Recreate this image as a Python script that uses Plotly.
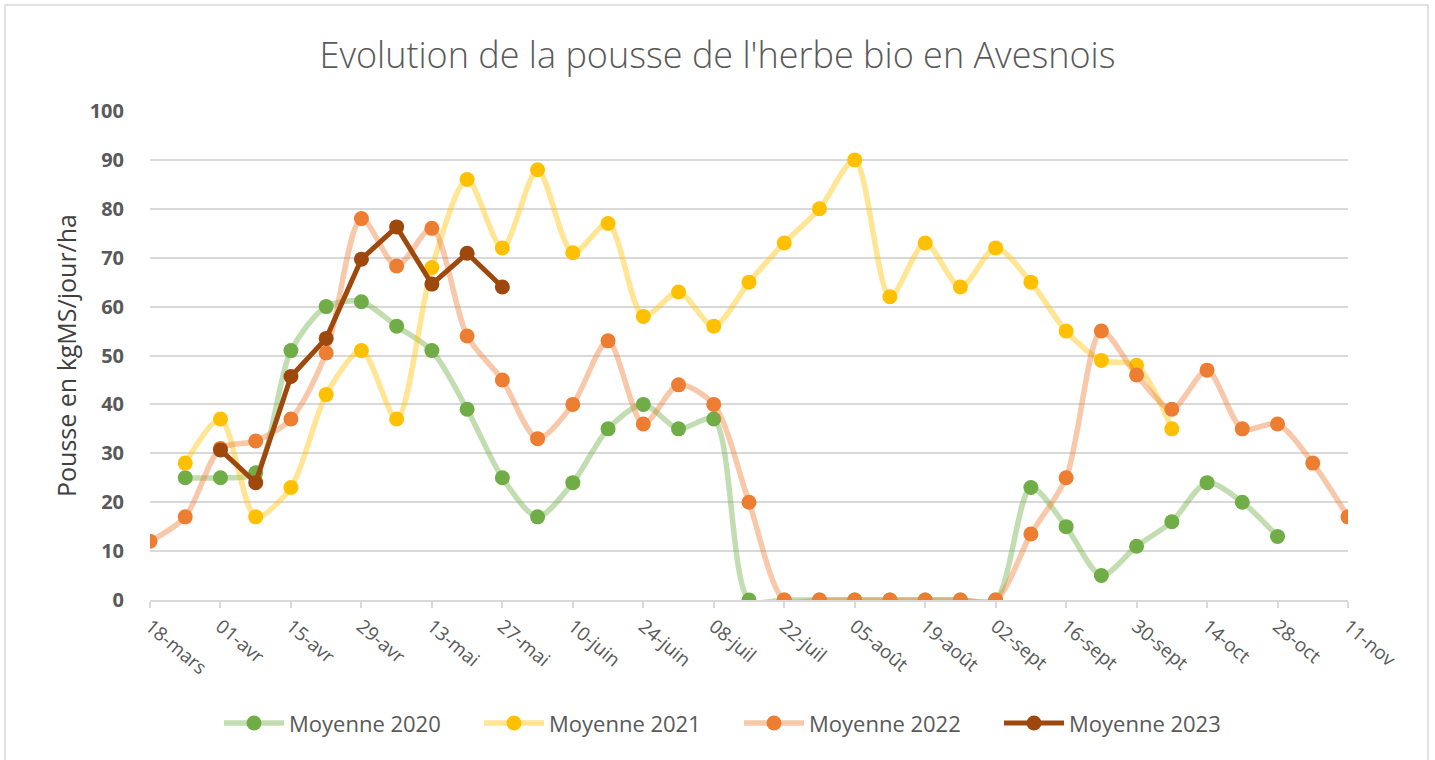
import plotly.graph_objects as go
import datetime as dt

# weekly dates (non-leap year), first = 18 mars
start = dt.date(2023, 3, 18)
dates = [(start + dt.timedelta(days=7 * i)).isoformat() for i in range(35)]

N = None
moy_2020 = [N, 25, 25, 26, 51, 60, 61, 56, 51, 39, 25, 17, 24, 35, 40, 35, 37, 0,
            0, 0, 0, 0, 0, 0, 0, 23, 15, 5, 11, 16, 24, 20, 13, N, N]
moy_2021 = [N, 28, 37, 17, 23, 42, 51, 37, 68, 86, 72, 88, 71, 77, 58, 63, 56, 65,
            73, 80, 90, 62, 73, 64, 72, 65, 55, 49, 48, 35, N, N, N, N, N]
moy_2022 = [12, 17, 31, 32.5, 37, 50.5, 78, 68.3, 76, 54, 45, 33, 40, 53, 36, 44, 40, 20,
            0, 0, 0, 0, 0, 0, 0, 13.5, 25, 55, 46, 39, 47, 35, 36, 28, 17]
moy_2023 = [N, N, 30.7, 24, 45.7, 53.5, 69.7, 76.3, 64.6, 70.9, 64, N, N, N, N, N, N, N,
            N, N, N, N, N, N, N, N, N, N, N, N, N, N, N, N, N]

tick_dates = [(start + dt.timedelta(days=14 * i)).isoformat() for i in range(18)]
tick_labels = ["18-mars", "01-avr", "15-avr", "29-avr", "13-mai", "27-mai", "10-juin",
               "24-juin", "08-juil", "22-juil", "05-août", "19-août", "02-sept",
               "16-sept", "30-sept", "14-oct", "28-oct", "11-nov"]

series = [
    ("Moyenne 2020", moy_2020, "rgba(112,173,71,0.42)", "#70ad47", "spline", 5.5),
    ("Moyenne 2021", moy_2021, "rgba(255,192,0,0.42)", "#ffc000", "spline", 5.5),
    ("Moyenne 2022", moy_2022, "rgba(237,125,49,0.42)", "#ed7d31", "spline", 5.5),
    ("Moyenne 2023", moy_2023, "#9e480e", "#9e480e", "linear", 5),
]

fig = go.Figure()
for name, vals, lc, mc, shape, w in series:
    fig.add_trace(go.Scatter(
        x=dates, y=vals, name=name, mode="lines+markers",
        line=dict(color=lc, width=w, shape=shape, smoothing=0.8),
        marker=dict(color=mc, size=15, line=dict(width=0)),
        connectgaps=False,
    ))

fig.update_layout(
    width=1435, height=760,
    margin=dict(l=150, r=87, t=111, b=160),
    paper_bgcolor="white", plot_bgcolor="white",
    title=dict(text="Evolution de la pousse de l'herbe bio en Avesnois",
               x=0.5, xanchor="center", y=1 - 55 / 760, yanchor="middle",
               font=dict(family="Open Sans", size=36, color="#595959", weight=300)),
    font=dict(family="Open Sans", color="#595959"),
    showlegend=True,
    legend=dict(orientation="h", x=0.5 - 10 / 1198, xanchor="center", y=-0.252,
                yanchor="middle", font=dict(size=22, color="#595959"), itemwidth=60,
                entrywidth=185, traceorder="normal"),
    shapes=[dict(type="rect", xref="paper", yref="paper",
                 x0=(5 - 150) / 1198, x1=(1428 - 150) / 1198,
                 y0=(600 - 770) / 489, y1=(600 - 5) / 489,
                 line=dict(color="#d9d9d9", width=1.5), layer="below")],
)

fig.update_xaxes(
    type="date",
    range=[tick_dates[0], tick_dates[-1]],
    tickvals=tick_dates, ticktext=tick_labels, tickangle=40,
    tickfont=dict(size=19, color="#595959"),
    showgrid=False, showline=True, linecolor="#d9d9d9", linewidth=2,
    ticks="outside", ticklen=6, tickcolor="#d9d9d9", tickwidth=2,
    zeroline=False,
)
fig.update_yaxes(
    range=[0, 100], dtick=10,
    tickfont=dict(size=20, color="#595959", family="Open Sans"),
    tickprefix="<b>", ticksuffix="</b>",
    showgrid=True, gridcolor="#d9d9d9", gridwidth=2,
    zeroline=False, showline=False, ticks="", ticklabelstandoff=25,
    title=dict(text="Pousse en kgMS/jour/ha", font=dict(size=25, color="#404040"),
               standoff=5),
)

fig.write_html("out.html", config={"displayModeBar": False},
               post_script="document.body.style.margin='0';")
